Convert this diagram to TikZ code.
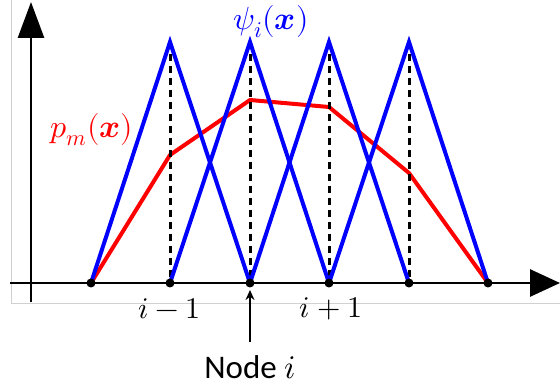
\documentclass[tikz,border=0pt]{standalone}
\usepackage{amsmath}
\usepackage{fontspec}
\usepackage{unicode-math}
\setmathfont{Latin Modern Math}
\newfontfamily\nodefont{Carlito}
\usetikzlibrary{arrows.meta}

\begin{document}
\begin{tikzpicture}[x=1pt, y=-1pt, >={Stealth[length=10pt, width=9pt]}]
    \useasboundingbox (0,0) rectangle (560,387);
    \tikzset{big/.style={font=\fontsize{32}{36}\selectfont}}

    % Points
    \foreach \i/\x in {0/91,1/170,2/250,3/329,4/409,5/488} {
        \coordinate (n\i) at (\x,283);
        \coordinate (t\i) at (\x,42);
    }
    \coordinate (r1) at (170,155);
    \coordinate (r2) at (250,100);
    \coordinate (r3) at (329,107);
    \coordinate (r4) at (409,173);
    \coordinate (xs) at (10,283);
    \coordinate (xe) at (560,283);
    \coordinate (ys) at (31,302);
    \coordinate (ye) at (31,2);

    % Frame edge
    \draw[black!18, line width=1pt] (11,0) -- (11,304) -- (560,304);

    % Axes
    \draw[line width=2.8pt, -{Triangle[length=30pt, width=27pt]}] (xs) -- (xe);
    \draw[line width=2.8pt, -{Triangle[length=36pt, width=26pt]}] (ys) -- (ye);

    % Curves
    \draw[red, line width=4pt, line join=round] (n0) -- (r1) -- (r2) -- (r3) -- (r4) -- (n5);
    \foreach \i in {1,...,4}
        \draw[line width=3pt, dash pattern=on 7pt off 5pt] (t\i) -- (n\i);
    \draw[blue, line width=4pt, line join=miter] (n0) -- (t1) -- (n2);
    \draw[blue, line width=4pt, line join=miter] (n1) -- (t2) -- (n3);
    \draw[blue, line width=4pt, line join=miter] (n2) -- (t3) -- (n4);
    \draw[blue, line width=4pt, line join=miter] (n3) -- (t4) -- (n5);
    \foreach \i in {0,...,5}
        \fill (n\i) circle (4.5pt);

    % Labels
    \node[big, text=blue] (psi) at (271,22) {$\psi_i(\symbfit{x})$};
    \node[big, text=red] (pm) at (92,130) {$p_m(\symbfit{x})$};
    \node[font=\fontsize{30}{34}\selectfont] (im) at (170,309) {$i-1$};
    \node[font=\fontsize{30}{34}\selectfont] (ip) at (331,309) {$i+1$};
    \node[font=\nodefont\fontsize{33}{38}\selectfont, anchor=base, inner sep=0pt] (lbl) at (250,379) {Node $i$};
    \draw[->, line width=1.5pt, shorten <=14pt, shorten >=7pt] (lbl) -- (n2);
\end{tikzpicture}
\end{document}
